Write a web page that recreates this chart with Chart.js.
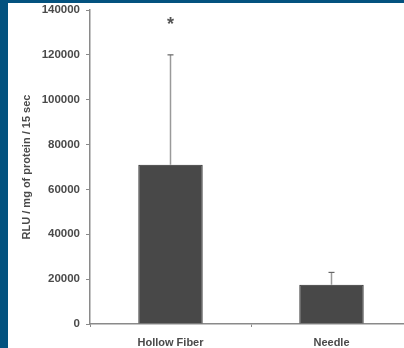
<!DOCTYPE html>
<html>
<head>
<meta charset="utf-8">
<script src="https://cdn.jsdelivr.net/npm/chart.js@4/dist/chart.umd.min.js"></script>
<style>
  html, body { margin: 0; padding: 0; overflow: hidden; background: #03527f; width: 404px; height: 348px; }
  #panel { position: absolute; left: 8px; top: 3px; width: 406px; height: 345px; background: #fff; }
  #chart { display: block; }
</style>
</head>
<body>
<div id="panel"><canvas id="chart" width="406" height="345"></canvas></div>
<script>
const categories = ["Hollow Fiber", "Needle"];
const means = [71000, 17500];
const errorTops = [120000, 23000];
const markers = ["*", ""];
const markerValues = [134500, null];
const yTicks = [0, 20000, 40000, 60000, 80000, 100000, 120000, 140000];

const axisColor = "#8a8a8a";
const textColor = "#4a4a4a";
const fontFamily = "'Liberation Sans', Arial, sans-serif";

// error bars + significance star, placed through the chart scales
const extras = {
  id: "extras",
  afterDatasetsDraw(chart) {
    const ctx = chart.ctx;
    const x = chart.scales.x;
    const y = chart.scales.y;
    ctx.save();
    categories.forEach((c, i) => {
      const px = x.getPixelForValue(i);
      const yBar = y.getPixelForValue(means[i]);
      const yTop = y.getPixelForValue(errorTops[i]);
      ctx.strokeStyle = "#9a9a9a";
      ctx.lineWidth = 1.5;
      ctx.beginPath();
      ctx.moveTo(px, yBar);
      ctx.lineTo(px, yTop);
      ctx.stroke();
      ctx.strokeStyle = "#666";
      ctx.lineWidth = 1.2;
      ctx.beginPath();
      ctx.moveTo(px - 3, yTop);
      ctx.lineTo(px + 3, yTop);
      ctx.stroke();
      if (markers[i]) {
        ctx.fillStyle = "#555";
        ctx.font = "bold 18px " + fontFamily;
        ctx.textAlign = "center";
        ctx.textBaseline = "middle";
        ctx.fillText(markers[i], px, y.getPixelForValue(markerValues[i]) + 3);
      }
    });
    ctx.restore();
  }
};

new Chart(document.getElementById("chart"), {
  type: "bar",
  data: {
    labels: categories,
    datasets: [{
      data: means,
      backgroundColor: "#484848",
      borderColor: "#2a2a2a",
      borderWidth: 1,
      categoryPercentage: 1,
      barPercentage: 0.4
    }]
  },
  options: {
    responsive: false,
    animation: false,
    layout: { padding: { top: 0, right: 2, left: 0, bottom: 0 } },
    plugins: { legend: { display: false }, tooltip: { enabled: false } },
    scales: {
      x: {
        grid: { offset: true, drawOnChartArea: false, drawTicks: true, tickLength: 3, color: axisColor },
        border: { color: axisColor, width: 1.5 },
        ticks: { color: textColor, font: { family: fontFamily, size: 11, weight: "bold" }, padding: 9, maxRotation: 0 },
        afterFit(scale) { scale.height = 24; }
      },
      y: {
        min: 0,
        max: 140000,
        grid: { drawOnChartArea: false, drawTicks: true, tickLength: 4, color: axisColor },
        border: { color: axisColor, width: 1.5 },
        afterBuildTicks(scale) { scale.ticks = yTicks.map(v => ({ value: v })); },
        ticks: {
          color: textColor,
          font: { family: fontFamily, size: 11.5, weight: "bold" },
          padding: 6,
          callback: v => String(v)
        },
        title: {
          display: true,
          text: "RLU / mg of protein / 15 sec",
          color: textColor,
          font: { family: fontFamily, size: 11, weight: "bold" },
          padding: { top: 12, bottom: 0 }
        },
        afterFit(scale) {
          scale.width = 82;
          scale.paddingTop = 7;
          scale.paddingBottom = 0;
        }
      }
    }
  },
  plugins: [extras]
});
</script>
</body>
</html>
